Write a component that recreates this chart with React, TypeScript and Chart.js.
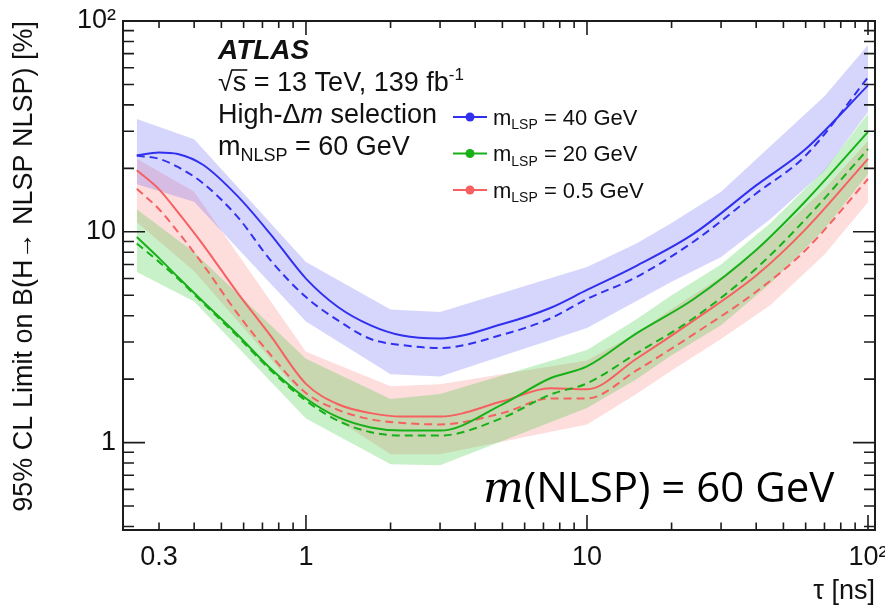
import React, { useEffect, useRef } from 'react';
import { Chart, registerables } from 'chart.js';

Chart.register(...registerables);

// ---- Limit curves (tau in ns, limit in %) ----
const TAU = [0.25, 0.3, 0.35, 0.43, 0.57, 0.75, 1, 1.3, 1.7, 2.2, 3, 5, 7.4, 10, 15, 24, 40, 60, 100];
const BLUE_OBS = [23.0, 23.8, 23.4, 20.8, 14.8, 9.7, 6.0, 4.4, 3.6, 3.22, 3.12, 3.65, 4.35, 5.3, 6.9, 9.8, 16.6, 24.7, 49.5];
const BLUE_EXP = [23.0, 22.2, 20.3, 17.0, 11.8, 7.3, 4.9, 3.8, 3.1, 2.9, 2.81, 3.25, 3.88, 4.8, 6.1, 9.0, 15.2, 23.0, 54.0];
const GREEN_OBS = [9.45, 7.5, 6.1, 4.67, 3.26, 2.24, 1.62, 1.32, 1.18, 1.14, 1.14, 1.52, 2.02, 2.3, 3.3, 4.8, 8.2, 14.0, 29.8];
const GREEN_EXP = [8.8, 7.2, 6.0, 4.6, 3.2, 2.2, 1.58, 1.27, 1.12, 1.08, 1.08, 1.31, 1.69, 1.91, 2.65, 3.9, 6.7, 11.5, 24.7];
const RED_OBS = [19.6, 15.9, 12.4, 8.7, 5.15, 3.2, 1.9, 1.52, 1.38, 1.33, 1.33, 1.57, 1.81, 1.79, 2.5, 3.8, 6.2, 10.3, 22.2];
const RED_EXP = [16.0, 12.8, 10.0, 7.0, 4.1, 2.6, 1.72, 1.43, 1.29, 1.24, 1.22, 1.38, 1.62, 1.62, 2.2, 3.27, 5.2, 8.2, 17.8];

// ---- Expected +-1 sigma bands ----
const TAU_BAND = [0.25, 0.4, 1, 2, 3, 10, 15, 20, 30, 45, 70, 100];
const BLUE_UP = [34.3, 27.5, 7.2, 4.28, 4.17, 6.8, 8.8, 11.0, 15.5, 25.5, 44, 77];
const BLUE_DN = [16.8, 13.9, 3.75, 2.11, 2.06, 3.5, 4.7, 5.8, 7.6, 11.5, 19.5, 37];
const GREEN_UP = [12.8, 8.0, 2.5, 1.61, 1.7, 2.75, 3.85, 5.0, 7.0, 11.0, 19.7, 36.3];
const GREEN_DN = [6.45, 4.67, 1.3, 0.79, 0.78, 1.46, 2.0, 2.6, 3.6, 5.7, 10.3, 18.8];
const RED_UP = [22.2, 15.5, 2.7, 1.85, 1.89, 2.45, 3.3, 4.3, 6.1, 9.3, 16, 27];
const RED_DN = [11.1, 6.5, 1.6, 0.88, 0.88, 1.22, 1.7, 2.2, 3.1, 4.5, 7.8, 13.8];

// ---- Axes ----
const X_MIN = 0.2233;
const X_MAX = 105.9;
const Y_MIN = 0.385;
const Y_MAX = 100;
const X_LABELS = [0.3, 1, 10, 100];
const Y_LABELS = [1, 10, 100];
const LABEL_TEXT: Record<string, string> = { '0.3': '0.3', '1': '1', '10': '10', '100': '10\u00B2' };

const BLUE = 'rgb(48,48,238)';
const GREEN = 'rgb(24,176,24)';
const RED = 'rgb(246,96,96)';
const BLUE_FILL = 'rgba(50,50,245,0.2)';
const GREEN_FILL = 'rgba(40,200,40,0.25)';
const RED_FILL = 'rgba(250,100,100,0.22)';

const LEGEND = [
  { mass: '40', color: BLUE },
  { mass: '20', color: GREEN },
  { mass: '0.5', color: RED },
];

const SANS = '"Liberation Sans", Arial, sans-serif';
const TXT = '#111';

function tickValues(min: number, max: number) {
  const out: number[] = [];
  for (let e = -1; e <= 2; e++) {
    for (let m = 1; m <= 9; m++) {
      const v = m * Math.pow(10, e);
      if (v >= min && v <= max * 1.0001) out.push(v);
    }
  }
  return out;
}
const isMajor = (v: number) => Math.abs(Math.log10(v) - Math.round(Math.log10(v))) < 1e-9;

type Run = { t: string; f: string; dy?: number };
function drawRuns(ctx: CanvasRenderingContext2D, x: number, y: number, rs: Run[]) {
  let cx = x;
  const pos: number[] = [];
  for (const r of rs) {
    ctx.font = r.f;
    pos.push(cx);
    ctx.fillText(r.t, cx, y + (r.dy ?? 0));
    cx += ctx.measureText(r.t).width;
  }
  pos.push(cx);
  return pos;
}

const framePlugin = {
  id: 'frameTicks',
  afterDatasetsDraw(chart: any) {
    const { ctx, chartArea: a, scales } = chart;
    const xs = scales.x;
    const ys = scales.y;
    ctx.save();
    ctx.strokeStyle = '#1c1c1c';
    ctx.lineWidth = 1.6;
    ctx.beginPath();
    for (const v of tickValues(X_MIN, X_MAX)) {
      const px = xs.getPixelForValue(v);
      const maj = isMajor(v);
      ctx.moveTo(px, a.bottom);
      ctx.lineTo(px, a.bottom - (maj ? 15 : 7.5));
      ctx.moveTo(px, a.top);
      ctx.lineTo(px, a.top + (maj ? 14 : 7));
    }
    for (const v of tickValues(Y_MIN, Y_MAX)) {
      const py = ys.getPixelForValue(v);
      const maj = isMajor(v);
      ctx.moveTo(a.left, py);
      ctx.lineTo(a.left + (maj ? 22 : 11), py);
      ctx.moveTo(a.right, py);
      ctx.lineTo(a.right - (maj ? 22 : 11), py);
    }
    ctx.stroke();
    ctx.lineWidth = 2;
    ctx.strokeRect(a.left, a.top, a.right - a.left, a.bottom - a.top);
    ctx.restore();
  },
};

const textPlugin = {
  id: 'annotations',
  afterDraw(chart: any) {
    const ctx: CanvasRenderingContext2D = chart.ctx;
    ctx.save();
    ctx.fillStyle = TXT;
    ctx.textBaseline = 'alphabetic';
    ctx.textAlign = 'left';
    const F = `27px ${SANS}`;
    drawRuns(ctx, 218, 59, [{ t: 'ATLAS', f: `italic bold 28px ${SANS}` }]);
    const p = drawRuns(ctx, 218, 91, [
      { t: '\u221A', f: F },
      { t: 's', f: F },
      { t: ' = 13 TeV, 139 fb', f: F },
      { t: '-1', f: `17px ${SANS}`, dy: -11 },
    ]);
    ctx.strokeStyle = TXT;
    ctx.lineWidth = 1.6;
    ctx.beginPath();
    ctx.moveTo(p[1] - 1, 91 - 21);
    ctx.lineTo(p[2] + 1, 91 - 21);
    ctx.stroke();
    drawRuns(ctx, 218, 123, [
      { t: 'High-\u0394', f: F },
      { t: 'm', f: `italic 27px ${SANS}` },
      { t: ' selection', f: F },
    ]);
    drawRuns(ctx, 218, 155, [
      { t: 'm', f: F },
      { t: 'NLSP', f: `18px ${SANS}`, dy: 6 },
      { t: ' = 60 GeV', f: F },
    ]);

    LEGEND.forEach((e, i) => {
      const yc = 117 + i * 36.5;
      ctx.strokeStyle = e.color;
      ctx.fillStyle = e.color;
      ctx.lineWidth = 2;
      ctx.beginPath();
      ctx.moveTo(453, yc);
      ctx.lineTo(487, yc);
      ctx.stroke();
      ctx.beginPath();
      ctx.arc(470, yc, 4.5, 0, Math.PI * 2);
      ctx.fill();
      ctx.fillStyle = TXT;
      drawRuns(ctx, 493, yc + 7.5, [
        { t: 'm', f: `22px ${SANS}` },
        { t: 'LSP', f: `14px ${SANS}`, dy: 4.5 },
        { t: ` = ${e.mass} GeV`, f: `22px ${SANS}` },
      ]);
    });

    ctx.fillStyle = '#000';
    drawRuns(ctx, 483, 502, [
      { t: 'm', f: `italic 43px "DejaVu Serif", serif` },
      { t: '(NLSP) = 60 GeV', f: `42px "Open Sans", "Noto Sans", sans-serif` },
    ]);
    ctx.restore();
  },
};

function pts(xs: number[], ys: number[]) {
  return xs.map((x, i) => ({ x, y: ys[i] }));
}

function lineDs(ys: number[], color: string, dashed: boolean) {
  return {
    data: pts(TAU, ys),
    borderColor: color,
    borderWidth: 2,
    borderDash: dashed ? [8, 5] : [],
    pointRadius: 0,
    fill: false,
    cubicInterpolationMode: 'monotone',
  };
}

function bandDs(lo: number[], hi: number[], color: string) {
  return [
    { data: pts(TAU_BAND, lo), borderWidth: 0, borderColor: 'transparent', pointRadius: 0, fill: false, tension: 0 },
    { data: pts(TAU_BAND, hi), borderWidth: 0, borderColor: 'transparent', pointRadius: 0, fill: '-1', backgroundColor: color, tension: 0 },
  ];
}

export default function App() {
  const ref = useRef<HTMLCanvasElement | null>(null);
  useEffect(() => {
    if (!ref.current) return;
    const tickFont = { family: SANS, size: 27 };
    const chart = new Chart(ref.current, {
      type: 'line',
      data: {
        datasets: [
          lineDs(BLUE_OBS, BLUE, false),
          lineDs(BLUE_EXP, BLUE, true),
          lineDs(GREEN_OBS, GREEN, false),
          lineDs(GREEN_EXP, GREEN, true),
          lineDs(RED_OBS, RED, false),
          lineDs(RED_EXP, RED, true),
          ...bandDs(BLUE_DN, BLUE_UP, BLUE_FILL),
          ...bandDs(GREEN_DN, GREEN_UP, GREEN_FILL),
          ...bandDs(RED_DN, RED_UP, RED_FILL),
        ] as any,
      },
      options: {
        animation: false,
        responsive: false,
        devicePixelRatio: 1,
        events: [],
        layout: { padding: { top: 21, right: 10, left: 0, bottom: 0 } },
        plugins: { legend: { display: false }, tooltip: { enabled: false } },
        scales: {
          x: {
            type: 'logarithmic',
            min: X_MIN,
            max: X_MAX,
            grid: { display: false, drawTicks: false },
            border: { display: false },
            afterBuildTicks: (s: any) => {
              s.ticks = X_LABELS.map((v) => ({ value: v }));
            },
            afterFit: (s: any) => {
              s.height = 78;
              s.paddingLeft = 0;
              s.paddingRight = 0;
            },
            ticks: {
              autoSkip: false,
              maxRotation: 0,
              padding: 11,
              color: TXT,
              font: tickFont,
              callback: (v: any) => LABEL_TEXT[String(v)] ?? '',
            },
            title: {
              display: true,
              text: '\u03C4 [ns]',
              align: 'end',
              color: TXT,
              font: { family: SANS, size: 27 },
              padding: 0,
            },
          },
          y: {
            type: 'logarithmic',
            min: Y_MIN,
            max: Y_MAX,
            grid: { display: false, drawTicks: false },
            border: { display: false },
            afterBuildTicks: (s: any) => {
              s.ticks = Y_LABELS.map((v) => ({ value: v }));
            },
            afterFit: (s: any) => {
              s.width = 123;
              s.paddingTop = 0;
              s.paddingBottom = 0;
            },
            ticks: {
              autoSkip: false,
              padding: 7,
              color: TXT,
              font: tickFont,
              callback: (v: any) => LABEL_TEXT[String(v)] ?? '',
            },
            title: {
              display: true,
              text: '95% CL Limit on B(H\u2192 NLSP NLSP) [%]',
              align: 'end',
              color: TXT,
              font: { family: SANS, size: 27 },
              padding: { top: 8, bottom: 0 },
            },
          },
        },
      } as any,
      plugins: [framePlugin, textPlugin],
    });
    return () => chart.destroy();
  }, []);

  return (
    <div style={{ position: 'fixed', left: 0, top: 0, width: 885, height: 608, background: '#fff' }}>
      <canvas ref={ref} width={885} height={608} style={{ display: 'block' }} />
    </div>
  );
}
